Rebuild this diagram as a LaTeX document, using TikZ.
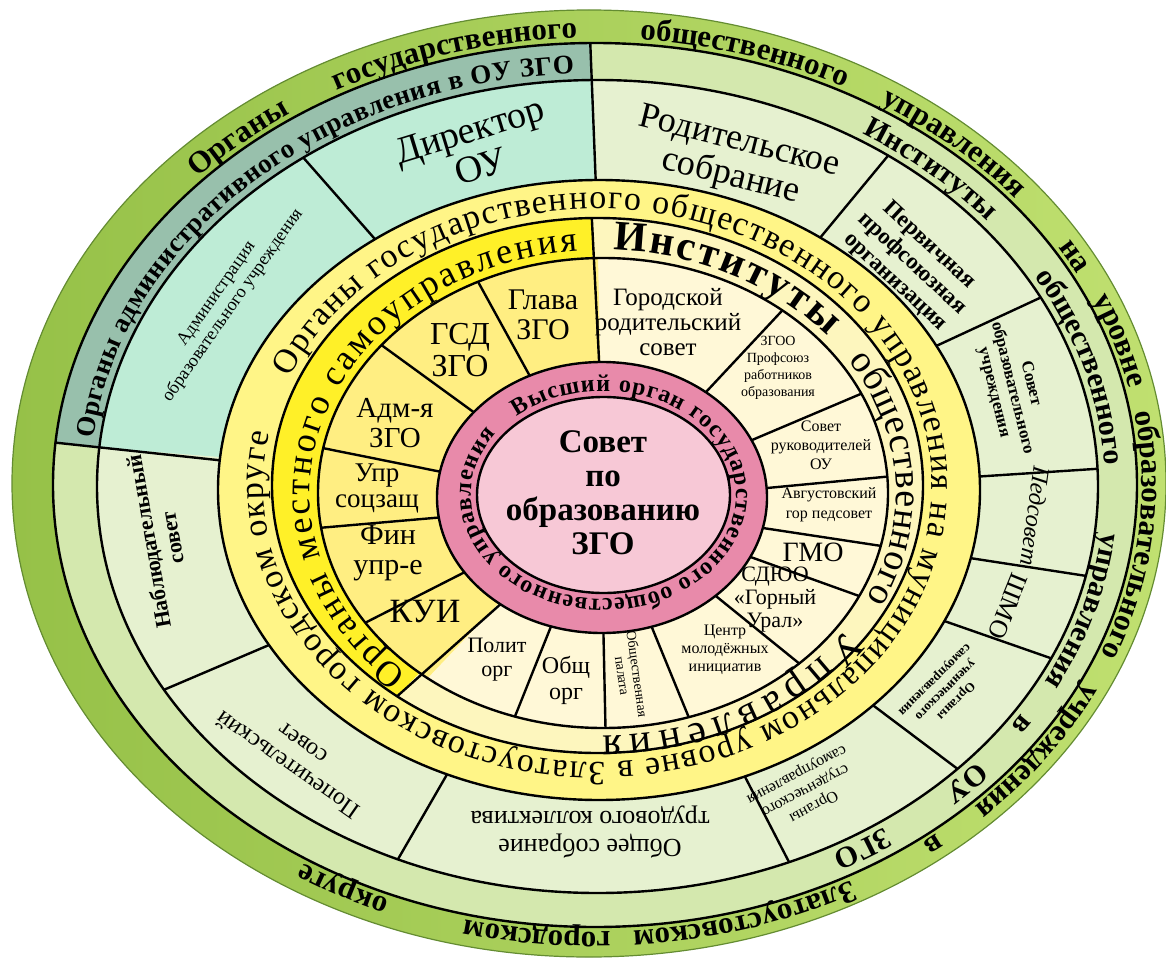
\documentclass[tikz,border=0pt]{standalone}
\usepackage{fontspec}
\setmainfont{Liberation Serif}
\usetikzlibrary{decorations.text}

\definecolor{outerL}{RGB}{150,193,72}
\definecolor{outerR}{RGB}{192,224,112}
\definecolor{bandgreen}{RGB}{212,232,174}
\definecolor{adminband}{RGB}{152,192,172}
\definecolor{tealcell}{RGB}{190,236,214}
\definecolor{cellgreen}{RGB}{230,241,208}
\definecolor{ylwband}{RGB}{255,245,135}
\definecolor{brightband}{RGB}{255,240,40}
\definecolor{paleband}{RGB}{253,246,190}
\definecolor{ylwcell}{RGB}{255,238,130}
\definecolor{creamcell}{RGB}{255,248,215}
\definecolor{pinkring}{RGB}{232,138,170}
\definecolor{pinkin}{RGB}{247,200,214}
\definecolor{rimgreen}{RGB}{100,140,50}

\newcommand{\fsz}[2]{\fontsize{#1}{#2}\selectfont}
\newcommand{\outerfont}{\bfseries\fsz{31}{31}}
\newcommand{\midfont}{\bfseries\fsz{30}{30}}

\tikzset{
  rim/.style={line width=2.4pt},
  lbl/.style={align=center, inner sep=0pt},
}

\begin{document}
\begin{tikzpicture}[x=1pt, y=1pt]
\useasboundingbox (0,0) rectangle (1166,-960);
% ring centres
\coordinate (c1) at (589,-483.5);
\coordinate (c2) at (595,-485);
\coordinate (c3) at (597.5,-486.5);
\coordinate (c4) at (599,-490);
\coordinate (c5) at (597.5,-485.5);
\coordinate (c6) at (603,-493);
\coordinate (c7) at (602,-497.5);
\coordinate (c8) at (603.5,-495);

% fills, outside in
\shade[left color=outerL, right color=outerR] (c1) ellipse[x radius=577, y radius=473.5];
\fill[bandgreen] (c2) ellipse[x radius=542, y radius=442];
\fill[adminband] (c2) -- ([shift={(90.5:542 and 442)}]c2)
  arc[start angle=90.5, end angle=174.5, x radius=542, y radius=442] -- cycle;
\fill[cellgreen] (c3) ellipse[x radius=500.5, y radius=406.5];
\fill[tealcell] (c3) -- ([shift={(90.5:500.5 and 406.5)}]c3)
  arc[start angle=90.5, end angle=174.5, x radius=500.5, y radius=406.5] -- cycle;
\fill[ylwband] (c4) ellipse[x radius=381, y radius=310];
\fill[paleband] (c5) ellipse[x radius=325.5, y radius=267.5];
\fill[brightband] (c5) -- ([shift={(91:325.5 and 267.5)}]c5)
  arc[start angle=91, end angle=232, x radius=325.5, y radius=267.5] -- cycle;
\fill[creamcell] (c6) ellipse[x radius=285, y radius=235];
\fill[ylwcell] (c6) -- ([shift={(91:285 and 235)}]c6)
  arc[start angle=91, end angle=232, x radius=285, y radius=235] -- cycle;
\fill[pinkring] (c7) ellipse[x radius=165, y radius=135.5];
\fill[pinkin] (c8) ellipse[x radius=126.5, y radius=98];

% outlines
\draw[rimgreen, line width=1.2pt] (c1) ellipse[x radius=577, y radius=473.5];
\draw[rim] (c2) ellipse[x radius=542, y radius=442];
\draw[rim] (c3) ellipse[x radius=500.5, y radius=406.5];
\draw[rim] (c4) ellipse[x radius=381, y radius=310];
\draw[rim] (c5) ellipse[x radius=325.5, y radius=267.5];
\draw[rim] (c6) ellipse[x radius=285, y radius=235];
\draw[rim] (c7) ellipse[x radius=165, y radius=135.5];
\draw[rim] (c8) ellipse[x radius=126.5, y radius=98];

% spokes
\foreach \a in {126,210,246.5,292.5,316,335,347.3,2.5,27.7,54.5}
  \draw[rim] ([shift={(\a:381 and 310)}]c4) -- ([shift={(\a:500.5 and 406.5)}]c3);
\foreach \a in {90.5,174.5}
  \draw[rim] ([shift={(\a:381 and 310)}]c4) -- ([shift={(\a:542 and 442)}]c2);
\foreach \a in {116,141,169,188.5,213.5,252,270.5,287.5,313.5,334,347,4,25,51}
  \draw[rim] ([shift={(\a:165 and 135.5)}]c7) -- ([shift={(\a:285 and 235)}]c6);
\foreach \a in {91,232}
  \draw[rim] ([shift={(\a:165 and 135.5)}]c7) -- ([shift={(\a:325.5 and 267.5)}]c5);

% outer band words
\foreach \w/\t in {Органы/132.5,государственного/106,общественного/73,управления/47,
    на/28,уровне/17,образовательного/-6,учреждения/-34,в/-50,
    Златоустовском/-73,городском/-96.5,округе/-119}
  \path[decorate, decoration/.expanded={text along path, text align=center,
        text={|\noexpand\outerfont|\w}}]
    ([shift={(\t+40:547 and 447)}]c2)
    arc[start angle=\t+40, end angle=\t-40, x radius=547, y radius=447];

% second band
\path[decorate, decoration={text along path, text align={fit to path},
      text={|\bfseries\fsz{27}{27}|Органы административного управления в ОУ ЗГО}}]
  ([shift={(173.4:507.5 and 413.5)}]c3)
  arc[start angle=173.4, end angle=92.7, x radius=507.5, y radius=413.5];
\foreach \w/\t in {Институты/47,общественного/15.5,управления/-16,
    в/-32,ОУ/-42,ЗГО/-57}
  \path[decorate, decoration/.expanded={text along path, text align=center,
        text={|\noexpand\midfont|\w}}]
    ([shift={(\t+40:507.5 and 413.5)}]c3)
    arc[start angle=\t+40, end angle=\t-40, x radius=507.5, y radius=413.5];

% yellow bands
\path[decorate, decoration={text along path, text align={fit to path},
      text={|\fsz{34}{34}|Органы государственного общественного управления на муниципальном уровне в Златоустовском городском округе}}]
  ([shift={(157:334.5 and 276.5)}]c5)
  arc[start angle=157, end angle=-191, x radius=334.5, y radius=276.5];
\path[decorate, decoration={text along path, text align={fit to path},
      text={|\fsz{36}{36}|Органы местного самоуправления}}]
  ([shift={(228:293 and 243)}]c6)
  arc[start angle=228, end angle=95, x radius=293, y radius=243];
\path[decorate, decoration={text along path, text align={fit to path},
      text={|\bfseries\fsz{42}{42}|Институты}}]
  ([shift={(88:293 and 243)}]c6)
  arc[start angle=88, end angle=40, x radius=293, y radius=243];
\path[decorate, decoration={text along path, text align={fit to path},
      text={|\fsz{38}{38}|общественного}}]
  ([shift={(33:293 and 243)}]c6)
  arc[start angle=33, end angle=-26, x radius=293, y radius=243];
\path[decorate, decoration={text along path, text align={fit to path},
      text={|\fsz{41}{41}|Управления}}]
  ([shift={(-34:293 and 243)}]c6)
  arc[start angle=-34, end angle=-90, x radius=293, y radius=243];

% pink ring
\path[decorate, decoration={text along path, text align={fit to path},
      text={|\bfseries\fsz{24}{24}|Высший орган государственного общественного управления}}]
  ([shift={(131:132.5 and 104)}]c8)
  arc[start angle=131, end angle=-216, x radius=132.5, y radius=104];
\node[lbl, font=\bfseries\fsz{33}{34}] (sovet) at (603,-493) {Совет\\по\\образованию\\ЗГО};

% outer cells
\node[lbl, rotate=17, font=\fsz{38}{38}] (direktor) at (475,-148) {Директор\\ОУ};
\node[lbl, rotate=-14, font=\fsz{36}{36}] (roditel) at (735,-160) {Родительское\\собрание};
\node[lbl, rotate=-43, font=\bfseries\fsz{23}{25}] (pervich) at (912,-264) {Первичная\\профсоюзная\\организация};
\node[lbl, rotate=-76, font=\bfseries\fsz{17}{19}] (sovetou) at (1012,-388) {Совет\\образовательного\\учреждения};
\node[lbl, rotate=-98, font=\itshape\fsz{24}{24}] (pedsovet) at (1035,-516) {Педсовет};
\node[lbl, rotate=-112, font=\fsz{26}{26}] (shmo) at (1008,-606) {ШМО};
\node[lbl, rotate=225, font=\bfseries\fsz{13}{15}] (uchen) at (945,-690) {Органы\\ученического\\самоуправления};
\node[lbl, rotate=208, font=\fsz{16}{18}] (stud) at (805,-790) {Органы\\студенческого\\самоуправления};
\node[lbl, rotate=180, font=\fsz{26}{28}] (obshee) at (590,-832) {Общее собрание\\трудового коллектива};
\node[lbl, rotate=145, font=\fsz{24}{26}] (popech) at (295,-755) {Попечительский\\совет};
\node[lbl, rotate=100, font=\bfseries\fsz{22}{24}] (nabl) at (160,-540) {Наблюдательный\\совет};
\node[lbl, rotate=55, font=\fsz{18}{20}] (admin) at (225,-300) {Администрация\\образовательного учреждения};

% inner cells
\node[lbl, font=\fsz{30}{30}] (glava) at (543,-315) {Глава\\ЗГО};
\node[lbl, font=\fsz{32}{32}] (gsd) at (460,-350) {ГСД\\ЗГО};
\node[lbl, font=\fsz{29}{30}] (admzgo) at (395,-423) {Адм-я\\ЗГО};
\node[lbl, font=\fsz{27}{26}] (upr) at (377,-488) {Упр\\соцзащ};
\node[lbl, font=\fsz{30}{30}] (fin) at (388,-553) {Фин\\упр-е};
\node[lbl, font=\fsz{34}{34}] (kui) at (425,-612) {КУИ};
\node[lbl, font=\fsz{22}{24}] (polit) at (497,-660) {Полит\\орг};
\node[lbl, font=\fsz{24}{26}] (obsh) at (566,-680) {Общ\\орг};
\node[lbl, rotate=-82, font=\fsz{14}{15}] (palata) at (630,-675) {Общественная\\палата};
\node[lbl, font=\fsz{16}{18}] (centr) at (725,-650) {Центр\\молодёжных\\инициатив};
\node[lbl, font=\fsz{22}{23}] (sdyuo) at (775,-600) {СДЮО\\«Горный\\Урал»};
\node[lbl, font=\fsz{28}{28}] (gmo) at (813,-552) {ГМО};
\node[lbl, font=\fsz{16}{20}] (avgust) at (829,-505) {Августовский\\гор педсовет};
\node[lbl, font=\fsz{16}{19}] (sovruk) at (821,-445) {Совет\\руководителей\\ОУ};
\node[lbl, font=\fsz{14}{17}] (zgoo) at (778,-368) {ЗГОО\\Профсоюз\\работников\\образования};
\node[lbl, font=\fsz{25}{25}] (gorod) at (668,-322) {Городской\\родительский\\совет};
\end{tikzpicture}
\end{document}
